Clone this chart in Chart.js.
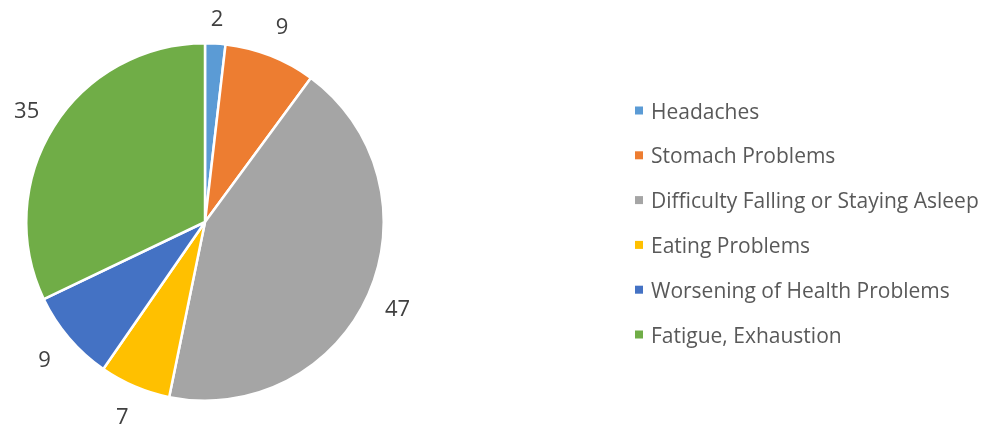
<!DOCTYPE html>
<html><head><meta charset="utf-8">
<script src="https://cdn.jsdelivr.net/npm/chart.js@4"></script>
<style>html,body{margin:0;padding:0;background:#fff}#wrap{width:990px;height:428px;position:relative}</style>
</head><body><div id="wrap"><canvas id="c" width="990" height="428"></canvas></div>
<script>
const categories = ["Headaches","Stomach Problems","Difficulty Falling or Staying Asleep","Eating Problems","Worsening of Health Problems","Fatigue, Exhaustion"];
const values = [2, 9, 47, 7, 9, 35];
const colors = ["#5B9BD5","#ED7D31","#A5A5A5","#FFC000","#4472C4","#70AD47"];
const FONT = '"Open Sans", sans-serif';

const labelPlugin = {
  id: 'outLabels',
  afterDatasetsDraw(chart) {
    const ctx = chart.ctx;
    const meta = chart.getDatasetMeta(0);
    ctx.save();
    ctx.font = '22px ' + FONT;
    ctx.fillStyle = '#404040';
    ctx.textAlign = 'center';
    ctx.textBaseline = 'alphabetic';
    meta.data.forEach((arc, i) => {
      const p = arc.getProps(['x','y','startAngle','endAngle','outerRadius'], true);
      const a = (p.startAngle + p.endAngle) / 2;
      const t = String(values[i]);
      const m = ctx.measureText(t);
      const r = p.outerRadius + 32;
      const cx = p.x + Math.cos(a) * r;
      let cy = p.y + Math.sin(a) * r;
      cy = Math.max(cy, 18);
      ctx.fillText(t, cx, cy + (m.actualBoundingBoxAscent - m.actualBoundingBoxDescent) / 2);
    });
    ctx.restore();
  }
};
const legendPlugin = {
  id: 'sideLegend',
  afterDraw(chart) {
    const ctx = chart.ctx;
    ctx.save();
    ctx.font = '21px ' + FONT;
    ctx.textBaseline = 'alphabetic';
    ctx.textAlign = 'left';
    const capH = ctx.measureText('H').actualBoundingBoxAscent;
    categories.forEach((c, i) => {
      const y = 110.5 + i * 44.8;
      ctx.fillStyle = colors[i];
      ctx.fillRect(635, y - 4, 8, 8);
      ctx.fillStyle = '#595959';
      ctx.fillText(c, 651, y + capH / 2);
    });
    ctx.restore();
  }
};

new Chart(document.getElementById('c'), {
  type: 'pie',
  data: { labels: categories, datasets: [{ data: values, backgroundColor: colors, borderColor: '#ffffff', borderWidth: 2.5 }] },
  options: {
    responsive: false, animation: false,
    layout: { padding: { left: 25, right: 605, top: 42, bottom: 26 } },
    plugins: { legend: { display: false }, tooltip: { enabled: false } }
  },
  plugins: [labelPlugin, legendPlugin]
});
</script></body></html>
